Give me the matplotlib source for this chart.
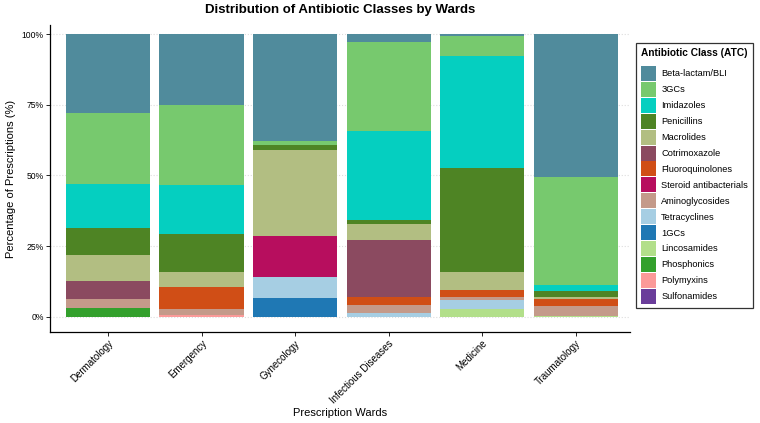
import matplotlib
matplotlib.use('Agg')
import matplotlib.pyplot as plt
import numpy as np

plt.rcParams['font.family'] = ['Liberation Sans', 'DejaVu Sans']

# Datos (porcentaje de prescripciones por sala)
wards = ['Dermatology', 'Emergency', 'Gynecology', 'Infectious Diseases', 'Medicine', 'Traumatology']

classes = ['Beta-lactam/BLI', '3GCs', 'Imidazoles', 'Penicillins', 'Macrolides', 'Cotrimoxazole',
           'Fluoroquinolones', 'Steroid antibacterials', 'Aminoglycosides', 'Tetracyclines', '1GCs',
           'Lincosamides', 'Phosphonics', 'Polymyxins', 'Sulfonamides']

beta_lactam = [28.1, 25.0, 37.9, 2.8, 0.7, 50.7]
gcs3 = [25.0, 28.3, 1.2, 31.6, 6.9, 38.1]
imidazoles = [15.6, 17.6, 0.0, 31.4, 39.8, 2.0]
penicillins = [9.4, 13.1, 2.0, 1.3, 36.6, 2.1]
macrolides = [9.4, 5.6, 30.2, 5.9, 6.5, 0.7]
cotrimoxazole = [6.3, 0.0, 0.0, 20.1, 0.0, 0.0]
fluoroquinolones = [0.0, 7.6, 0.0, 2.7, 2.6, 2.6]
steroid = [0.0, 0.0, 14.5, 0.0, 0.0, 0.0]
aminoglycosides = [3.1, 2.3, 0.0, 3.0, 1.0, 3.4]
tetracyclines = [0.0, 0.0, 7.7, 1.2, 3.3, 0.0]
gcs1 = [0.0, 0.0, 6.5, 0.0, 0.0, 0.0]
lincosamides = [0.0, 0.0, 0.0, 0.0, 2.6, 0.4]
phosphonics = [3.1, 0.0, 0.0, 0.0, 0.0, 0.0]
polymyxins = [0.0, 0.5, 0.0, 0.0, 0.0, 0.0]
sulfonamides = [0.0, 0.0, 0.0, 0.0, 0.0, 0.0]

values = [beta_lactam, gcs3, imidazoles, penicillins, macrolides, cotrimoxazole,
          fluoroquinolones, steroid, aminoglycosides, tetracyclines, gcs1,
          lincosamides, phosphonics, polymyxins, sulfonamides]

colors = ['#508B9C', '#77C96E', '#05CFC0', '#4E8424', '#B2BE82', '#8B4A60',
          '#D04E16', '#B70E5E', '#C49A8A', '#A6CEE3', '#1F78B4',
          '#B2DF8A', '#33A02C', '#FB9A99', '#6A3D9A']

fig = plt.figure(figsize=(7.6, 4.23), dpi=100)
ax = fig.add_axes([50 / 760, 91 / 423, 580 / 760, 307 / 423])

x = np.arange(len(wards))
bottom = np.zeros(len(wards))
handles = {}
# apilamos desde abajo (orden inverso de la leyenda)
for name, vals, col in reversed(list(zip(classes, values, colors))):
    b = ax.bar(x, vals, 0.9, bottom=bottom, color=col, linewidth=0, label=name, zorder=2)
    handles[name] = b
    bottom += np.array(vals)

ax.set_xlim(-0.62, 5.58)
ax.set_ylim(-5.4, 103.2)
ax.set_yticks([0, 25, 50, 75, 100])
ax.set_yticklabels(['0%', '25%', '50%', '75%', '100%'], fontsize=6.2)
ax.set_xticks(x)
ax.set_xticklabels(wards, rotation=45, ha='right', rotation_mode='anchor', fontsize=7)
ax.tick_params(axis='both', length=3, width=0.6, color='black', pad=1.5)
ax.grid(axis='y', linestyle=':', color='#dddddd', linewidth=0.8, zorder=0)
ax.spines['top'].set_visible(False)
ax.spines['right'].set_visible(False)
ax.spines['left'].set_linewidth(0.9)
ax.spines['bottom'].set_linewidth(0.9)

ax.set_xlabel('Prescription Wards', fontsize=8, labelpad=2)
ax.set_ylabel('Percentage of Prescriptions (%)', fontsize=8, labelpad=4)
ax.set_title('Distribution of Antibiotic Classes by Wards', fontsize=9.5, fontweight='bold', pad=9)

leg = fig.legend([handles[c] for c in classes], classes, title='Antibiotic Class (ATC)',
                 loc='upper left', bbox_to_anchor=(636 / 760, 1 - 43 / 423), borderaxespad=0,
                 fontsize=6.7, title_fontproperties={'weight': 'bold', 'size': 7.3},
                 frameon=True, fancybox=False, edgecolor='black', borderpad=0.5,
                 handlelength=1.7, handleheight=2.1, labelspacing=0.1, handletextpad=0.5,
                 alignment='left')
leg.get_frame().set_linewidth(0.9)
leg._legend_box.sep = 6

plt.savefig('out.png', dpi=100)
